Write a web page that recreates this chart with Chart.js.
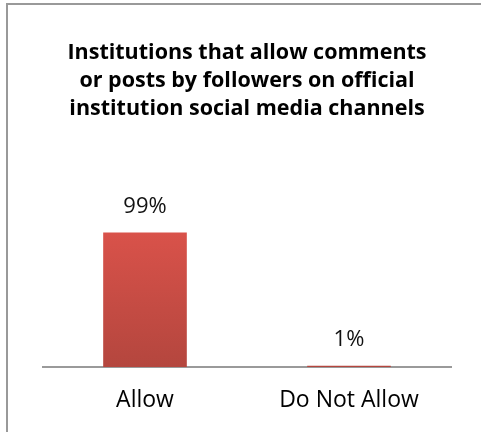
<!DOCTYPE html>
<html>
<head>
<meta charset="utf-8">
<script src="https://cdn.jsdelivr.net/npm/chart.js@4"></script>
<style>
  html, body { margin: 0; padding: 0; background: #fff; overflow: hidden; }
  #wrap { position: relative; width: 481px; height: 432px; overflow: hidden; }
  #frame { position: absolute; left: 6px; top: 3px; width: 600px; height: 600px;
           border: 2px solid #999; box-sizing: border-box; pointer-events: none; }
</style>
</head>
<body>
<div id="wrap">
  <canvas id="myChart" width="481" height="450"></canvas>
  <div id="frame"></div>
</div>
<script>
var categories = ["Allow", "Do Not Allow"];
var values = [99, 1];
var titleLines = [
  "Institutions that allow comments",
  "or posts by followers on official",
  "institution social media channels"
];

var fontName = "'Open Sans', 'Liberation Sans', sans-serif";

// value labels above the bars
var valueLabels = {
  id: "valueLabels",
  afterDatasetsDraw: function (chart) {
    var ctx = chart.ctx;
    var meta = chart.getDatasetMeta(0);
    ctx.save();
    ctx.font = "22px " + fontName;
    ctx.fillStyle = "#111";
    ctx.textAlign = "center";
    ctx.textBaseline = "alphabetic";
    meta.data.forEach(function (bar, i) {
      ctx.fillText(values[i] + "%", bar.x, bar.y - 20);
    });
    ctx.restore();
  }
};

function barFill(context) {
  var area = context.chart.chartArea;
  if (!area) return "#d0504a";
  var g = context.chart.ctx.createLinearGradient(0, 232, 0, area.bottom);
  g.addColorStop(0, "#d9524a");
  g.addColorStop(1, "#b4463e");
  return g;
}

new Chart("myChart", {
  type: "bar",
  data: {
    labels: categories,
    datasets: [{
      data: values,
      backgroundColor: barFill,
      borderWidth: 0,
      barPercentage: 0.41,
      categoryPercentage: 1
    }]
  },
  options: {
    responsive: false,
    animation: false,
    layout: { padding: { left: 43, right: 30, top: 0, bottom: 16 } },
    plugins: {
      legend: { display: false },
      tooltip: { enabled: false },
      title: {
        display: true,
        text: titleLines,
        color: "#000",
        font: { family: fontName, size: 21.5, weight: "bold", lineHeight: 1.302 },
        padding: { top: 39, bottom: 81 }
      }
    },
    scales: {
      y: { display: false, min: 0, max: 120 },
      x: {
        grid: { display: false, drawTicks: false },
        border: { display: true, color: "#9a9a9a", width: 2 },
        ticks: { color: "#000", padding: 22, font: { family: fontName, size: 23, lineHeight: 1 } }
      }
    }
  },
  plugins: [valueLabels]
});
</script>
</body>
</html>
